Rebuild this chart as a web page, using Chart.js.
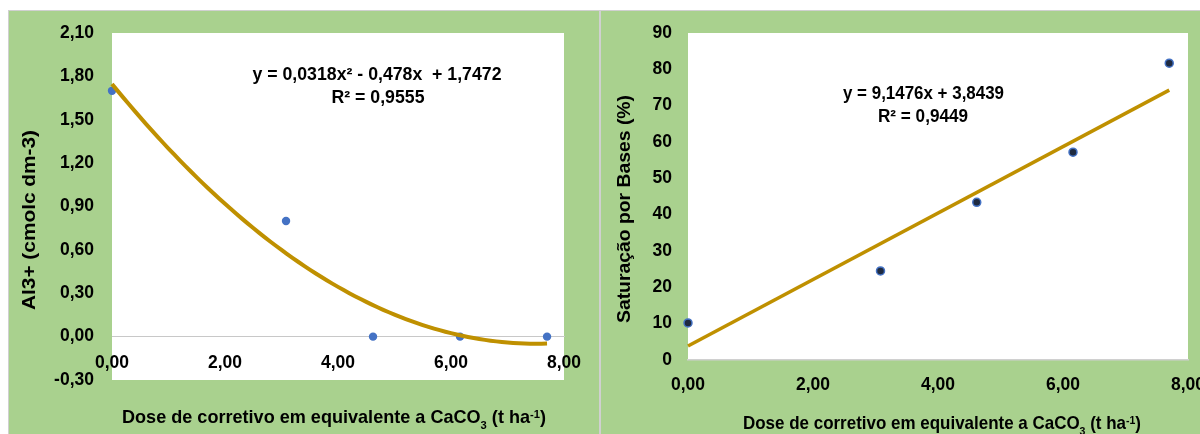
<!DOCTYPE html>
<html>
<head>
<meta charset="utf-8">
<script src="https://cdn.jsdelivr.net/npm/chart.js@4.4.1/dist/chart.umd.min.js"></script>
<style>
  html, body { margin: 0; padding: 0; background: #fff; width: 1200px; height: 434px; overflow: hidden; }
  .panel { position: absolute; background: #a9d18e; border: 1px solid #d0d0d0; box-sizing: border-box; }
  canvas { position: absolute; }
</style>
</head>
<body>
<div class="panel" style="left:8px;top:10px;width:592px;height:440px"></div>
<div class="panel" style="left:600px;top:10px;width:610px;height:440px"></div>
<canvas id="alChart" width="591" height="423" style="left:8px;top:11px"></canvas>
<canvas id="vChart" width="599" height="423" style="left:601px;top:11px"></canvas>
<script>
// Lime doses (t ha-1 CaCO3 equivalent)
const doses = [0.00, 3.08, 4.62, 6.16, 7.70];
// Exchangeable Al3+ (cmolc dm-3)
const aluminio = [1.70, 0.80, 0.00, 0.00, 0.00];
// Base saturation V (%)
const saturacao = [10.2, 24.5, 43.4, 57.2, 81.7];

// Fitted trend coefficients (as printed on the charts)
const quadFit = [0.0318, -0.478, 1.7472];   // a x² + b x + c
const linFit = [9.1476, 3.8439];            // m x + n

// Axis ticks
const doseTicks = [0, 2, 4, 6, 8];
const alTicks = [-0.30, 0.00, 0.30, 0.60, 0.90, 1.20, 1.50, 1.80, 2.10];
const vTicks = [0, 10, 20, 30, 40, 50, 60, 70, 80, 90];

// Labels
const eqAl = ['y = 0,0318x² - 0,478x  + 1,7472', 'R² = 0,9555'];
const eqV = ['y = 9,1476x + 3,8439', 'R² = 0,9449'];
const titleAl = 'Al3+ (cmolc dm-3)';
const titleV = 'Saturação por Bases (%)';
const titleDose = [{ t: 'Dose de corretivo em equivalente a CaCO' }, { t: '3', sub: true }, { t: ' (t ha' }, { t: '-1', sup: true }, { t: ')' }];

const FAMILY = '"Liberation Sans", Arial, sans-serif';
const TREND = '#bf9000';
const comma = (v, d) => (Math.abs(v) < 1e-9 ? 0 : v).toFixed(d).replace('.', ',');

// trend curves from the printed coefficients, over the dose range
const xEnd = doses[doses.length - 1];
const quadCurve = [];
for (let i = 0; i <= 77; i++) {
  const x = xEnd * i / 77;
  quadCurve.push({ x, y: quadFit[0] * x * x + quadFit[1] * x + quadFit[2] });
}
const linCurve = [0, xEnd].map(x => ({ x, y: linFit[0] * x + linFit[1] }));

const pts = ys => doses.map((x, i) => ({ x, y: ys[i] }));

// white plotting area
const plotBg = {
  id: 'plotBg',
  beforeDraw(chart) {
    const { ctx, chartArea: a } = chart;
    ctx.save();
    ctx.fillStyle = '#ffffff';
    ctx.fillRect(a.left, a.top, a.right - a.left, a.bottom - a.top);
    ctx.restore();
  }
};

// bold text with sub/superscripts, fitted to a given width
function drawRich(ctx, item) {
  const base = item.size;
  const font = s => `bold ${s}px ${FAMILY}`;
  let total = 0;
  const parts = item.segs.map(s => {
    const sz = (s.sub || s.sup) ? base * 0.62 : base;
    ctx.font = font(sz);
    const w = ctx.measureText(s.t).width;
    total += w;
    return { t: s.t, sz, w, dy: s.sub ? base * 0.42 : s.sup ? -base * 0.17 : 0 };
  });
  const sx = item.width ? item.width / total : 1;
  ctx.save();
  ctx.translate(item.x, item.y);
  if (item.rotate) ctx.rotate(item.rotate);
  ctx.scale(sx, 1);
  ctx.fillStyle = '#000';
  ctx.textBaseline = 'middle';
  ctx.textAlign = 'left';
  let x = -total / 2;
  for (const p of parts) {
    ctx.font = font(p.sz);
    ctx.fillText(p.t, x, p.dy);
    x += p.w;
  }
  ctx.restore();
}

const textPlugin = items => ({
  id: 'panelText',
  afterDraw(chart) {
    items.forEach(it => drawRich(chart.ctx, it));
  }
});

const tickFont = { family: FAMILY, size: 17.5, weight: 'bold' };

function fixTicks(list) {
  return s => { s.ticks = list.map(v => ({ value: v })); };
}

Chart.defaults.animation = false;

// ---- Al3+ chart ----
new Chart(document.getElementById('alChart'), {
  type: 'scatter',
  data: {
    datasets: [
      { data: quadCurve, showLine: true, borderColor: TREND, borderWidth: 4, pointRadius: 0, tension: 0, clip: false },
      { data: pts(aluminio), pointRadius: 4.2, pointBackgroundColor: '#4472c4', pointBorderWidth: 0, showLine: false, clip: false }
    ]
  },
  options: {
    responsive: false,
    layout: { padding: { top: 22, bottom: 54, right: 35, left: 0 }, autoPadding: false },
    plugins: { legend: { display: false }, tooltip: { enabled: false } },
    scales: {
      x: {
        type: 'linear', position: { y: 0 }, min: 0, max: 8,
        afterBuildTicks: fixTicks(doseTicks),
        afterFit: s => { s.height = 0; s.paddingLeft = 0; s.paddingRight = 0; },
        grid: { display: false, drawTicks: false },
        border: { display: true, color: '#c8c8c8', width: 1 },
        ticks: { autoSkip: false, maxRotation: 0, padding: 16, color: '#000', font: tickFont, callback: v => comma(v, 2) }
      },
      y: {
        type: 'linear', position: 'left', min: -0.3, max: 2.1,
        afterBuildTicks: fixTicks(alTicks),
        afterFit: s => { s.width = 104; s.paddingTop = 0; s.paddingBottom = 0; },
        grid: { display: false, drawTicks: false },
        border: { display: false },
        ticks: { autoSkip: false, padding: 18, color: '#000', font: tickFont, callback: v => comma(v, 2) }
      }
    }
  },
  plugins: [plotBg, textPlugin([
    { segs: [{ t: titleAl }], x: 22, y: 209, size: 18.5, width: 180, rotate: -Math.PI / 2 },
    { segs: titleDose, x: 326, y: 407, size: 18.5, width: 424 },
    { segs: [{ t: eqAl[0] }], x: 369, y: 64, size: 18, width: 249 },
    { segs: [{ t: eqAl[1] }], x: 370, y: 87, size: 18, width: 93 }
  ])]
});

// ---- Base saturation chart ----
new Chart(document.getElementById('vChart'), {
  type: 'scatter',
  data: {
    datasets: [
      { data: linCurve, showLine: true, borderColor: TREND, borderWidth: 3.5, pointRadius: 0, tension: 0, clip: false },
      { data: pts(saturacao), pointRadius: 4, pointBackgroundColor: '#1e2a40', pointBorderColor: '#4472c4', pointBorderWidth: 1.5, showLine: false, clip: false }
    ]
  },
  options: {
    responsive: false,
    layout: { padding: { top: 22, bottom: 0, right: 12, left: 0 }, autoPadding: false },
    plugins: { legend: { display: false }, tooltip: { enabled: false } },
    scales: {
      x: {
        type: 'linear', position: 'bottom', min: 0, max: 8,
        afterBuildTicks: fixTicks(doseTicks),
        afterFit: s => { s.height = 74; s.paddingLeft = 0; s.paddingRight = 0; },
        grid: { display: false, drawTicks: false },
        border: { display: true, color: '#d0d0d0', width: 1.5 },
        ticks: { autoSkip: false, maxRotation: 0, padding: 15, color: '#000', font: tickFont, callback: v => comma(v, 2) }
      },
      y: {
        type: 'linear', position: 'left', min: 0, max: 90,
        afterBuildTicks: fixTicks(vTicks),
        afterFit: s => { s.width = 87; s.paddingTop = 0; s.paddingBottom = 0; },
        grid: { display: false, drawTicks: false },
        border: { display: false },
        ticks: { autoSkip: false, padding: 16, color: '#000', font: tickFont, callback: v => String(v) }
      }
    }
  },
  plugins: [plotBg, textPlugin([
    { segs: [{ t: titleV }], x: 24, y: 198, size: 18.5, width: 228, rotate: -Math.PI / 2 },
    { segs: titleDose, x: 341, y: 413, size: 18.5, width: 398 },
    { segs: [{ t: eqV[0] }], x: 322.5, y: 83, size: 18, width: 161 },
    { segs: [{ t: eqV[1] }], x: 322, y: 106, size: 18, width: 90 }
  ])]
});
</script>
</body>
</html>
